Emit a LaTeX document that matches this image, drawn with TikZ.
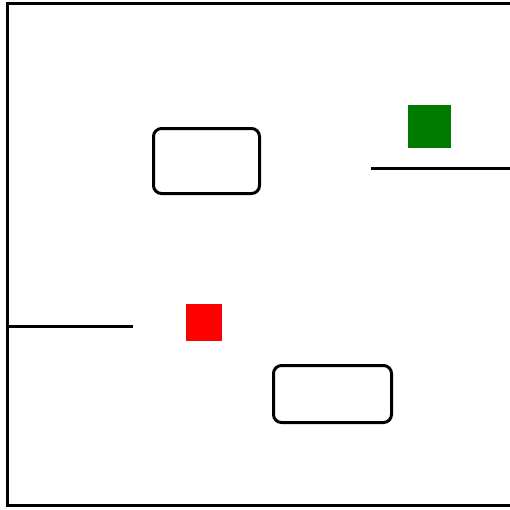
\documentclass[tikz,border=0pt]{standalone}
\begin{document}
\begin{tikzpicture}[x=1pt,y=-1pt,
  thick line/.style={line width=3pt},
  roundbox/.style={draw,line width=3pt,rounded corners=8pt,inner sep=0pt},
  filledsq/.style={draw=none,inner sep=0pt}]
\useasboundingbox (0,0) rectangle (510,509);
\definecolor{dkgreen}{RGB}{0,123,0}
% frame
\coordinate (ftr) at (512,3.5);
\coordinate (ftl) at (7.5,3.5);
\coordinate (fbl) at (7.5,505.5);
\coordinate (fbr) at (512,505.5);
\draw[thick line] (ftr) -- (ftl) -- (fbl) -- (fbr);
% boxes
\node[roundbox,minimum width=106pt,minimum height=65pt] (boxA) at (206.5,161) {};
\node[roundbox,minimum width=118pt,minimum height=57pt] (boxB) at (332.5,394) {};
% squares
\node[filledsq,fill=dkgreen,minimum width=43pt,minimum height=43pt] (gsq) at (429.5,126.5) {};
\node[filledsq,fill=red,minimum width=36pt,minimum height=37pt] (rsq) at (204,322.5) {};
% lines
\coordinate (rl1) at (371,168.5);
\coordinate (rl2) at (512,168.5);
\draw[thick line] (rl1) -- (rl2);
\coordinate (ll1) at (7.5,326);
\coordinate (ll2) at (133,326);
\draw[thick line] (ll1) -- (ll2);
\end{tikzpicture}
\end{document}
